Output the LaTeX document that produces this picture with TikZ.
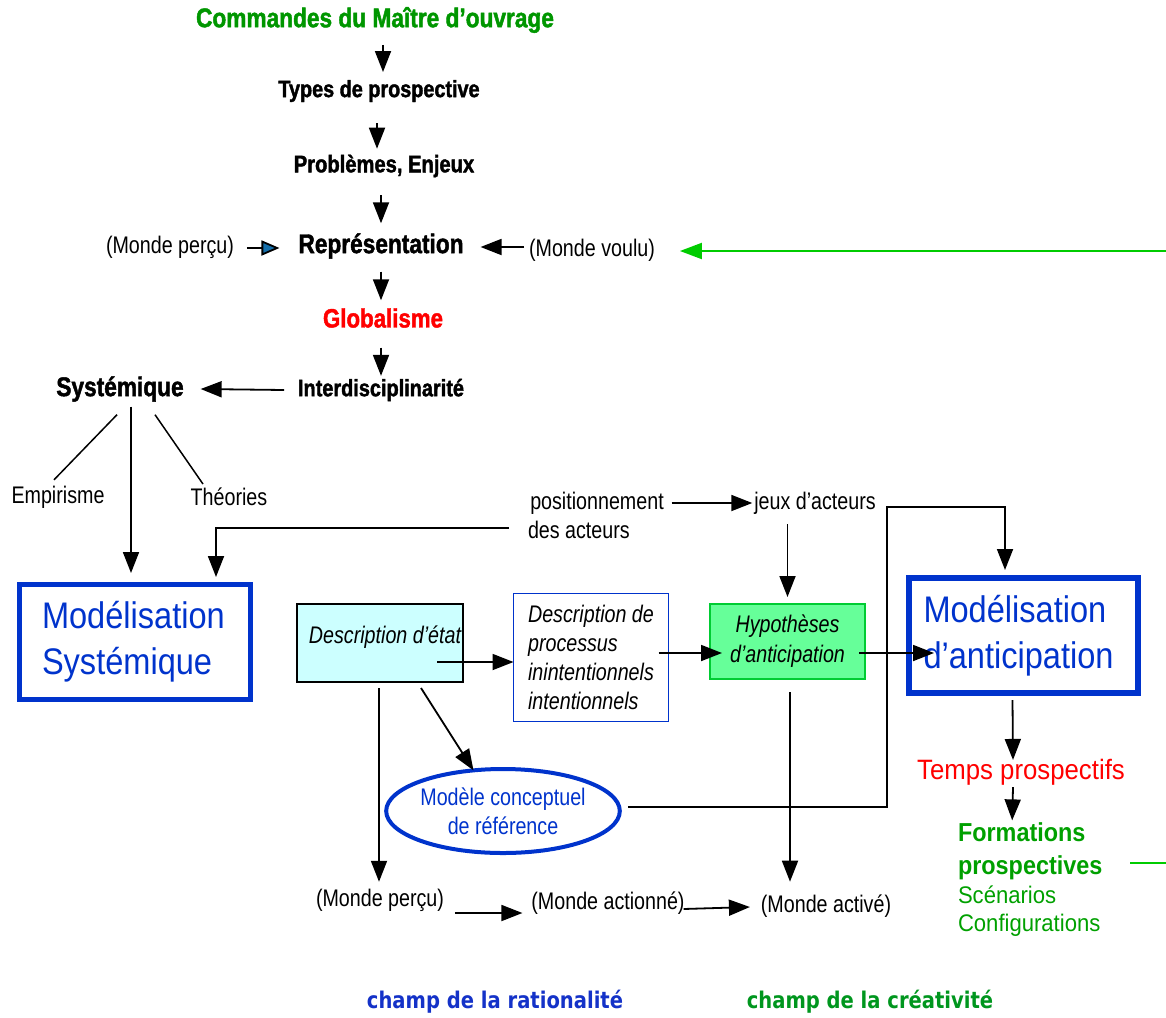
\documentclass[tikz,border=0pt]{standalone}
\usepackage{fontspec}
\setmainfont{Liberation Sans}
\usetikzlibrary{arrows.meta,calc,shapes.geometric}
\newfontfamily\hdf[FakeStretch=0.84,BoldFeatures={FakeBold=1.6}]{Liberation Sans}
\newfontfamily\nrf[FakeStretch=0.82]{Liberation Sans}
\newfontfamily\bgf[FakeStretch=0.88]{Liberation Sans}
\newfontfamily\tpf[FakeStretch=0.92]{Liberation Sans}
\newfontfamily\fmf[FakeStretch=0.9]{Liberation Sans}
\newfontfamily\chf[FakeStretch=0.85]{DejaVu Sans}
\newcommand\fs[2]{\fontsize{#1}{#2}\selectfont}
\definecolor{cmdgreen}{RGB}{0,150,0}
\definecolor{boxblue}{RGB}{0,51,204}
\definecolor{brightgreen}{RGB}{0,204,0}
\definecolor{cyanfill}{RGB}{204,255,255}
\definecolor{hypfill}{RGB}{102,255,153}
\definecolor{hypborder}{RGB}{0,204,51}
\definecolor{tipblue}{RGB}{20,110,170}
\definecolor{formgreen}{RGB}{0,160,0}
\definecolor{champgreen}{RGB}{0,150,30}
\definecolor{champblue}{RGB}{20,50,200}
\tikzset{
  hd/.style={inner sep=0pt,outer sep=0pt,font=\hdf\bfseries\fs{#1}{#1}},
  nr/.style={inner sep=0pt,outer sep=0pt,font=\nrf\fs{24}{29}},
  itx/.style={font=\nrf\itshape\fs{24}{29}},
  bigbox/.style={draw=boxblue,line width=5pt,inner sep=0pt,outer sep=0pt,align=left,text=boxblue,font=\bgf\fs{37}{46}},
  arr/.style={line width=1.8pt,-{Triangle[length=21pt,width=16pt]}},
  ln/.style={line width=1.5pt},
  bluearr/.style={line width=1.8pt,-{Triangle[length=18pt,width=15pt,fill=tipblue]}},
  garr/.style={line width=2pt,draw=brightgreen,-{Triangle[length=22pt,width=16pt]}},
  gline/.style={line width=2pt,draw=brightgreen}
}
\begin{document}
\begin{tikzpicture}[x=1pt,y=-1pt]
\useasboundingbox (0,0) rectangle (1166,1017);

% top chain
\node[hd=27,text=cmdgreen] (cmd) at (375,20) {Commandes du Maître d’ouvrage};
\node[hd=23.6] (types) at (379,91) {Types de prospective};
\node[hd=24] (prob) at (384,166) {Problèmes, Enjeux};
\node[hd=27] (rep) at (381,246) {Représentation};
\node[hd=26.5,text=red] (glob) at (383,318) {Globalisme};
\node[hd=23.7] (inter) at (381,390) {Interdisciplinarité};
\node[hd=27] (sys) at (120,389) {Systémique};

\node[nr] (mp1) at (170,247) {(Monde perçu)};
\node[nr] (mv) at (592,250) {(Monde voulu)};
\coordinate (gR) at (1166,251);

\node[nr] (emp) at (58,497) {Empirisme};
\node[nr] (theo) at (229,497) {Théories};
\node[nr] (pos1) at (597,503) {positionnement};
\node[nr,anchor=west] (pos2) at (528,530) {des acteurs};
\node[nr] (jeux) at (815,503) {jeux d’acteurs};
\coordinate (jc) at (887,507);

% boxes
\node[bigbox,minimum width=231pt,minimum height=115pt,text width=186pt] (msys) at (135,642) {Modélisation\\Systémique};
\node[bigbox,line width=6pt,minimum width=229pt,minimum height=115pt,text width=200pt] (manti) at (1023.5,635.5) {Modélisation\\d’anticipation};
\node[draw,line width=1.5pt,fill=cyanfill,minimum width=166pt,minimum height=78pt,inner sep=0pt,outer sep=0pt] (de) at (380,643) {};
\node[itx,inner sep=0pt] (detxt) at (385,637) {Description d’état};
\node[draw=boxblue,line width=1.5pt,minimum width=155pt,minimum height=128pt,inner sep=0pt,outer sep=0pt,itx,align=left] (dp) at (591,657.5) {Description de\\processus\\inintentionnels\\intentionnels};
\node[draw=hypborder,fill=hypfill,line width=1.5pt,minimum width=155pt,minimum height=75pt,inner sep=0pt,outer sep=0pt,align=center,font=\nrf\itshape\fs{24}{30}] (hyp) at (787.5,641.5) {Hypothèses\\d’anticipation};
\node[ellipse,draw=boxblue,line width=4pt,minimum width=228pt,minimum height=84pt,inner sep=0pt,outer sep=0pt,text=boxblue,align=center,font=\nrf\fs{24}{29}] (mcr) at (503,811) {Modèle conceptuel\\de référence};

% right column
\node[inner sep=0pt,outer sep=0pt,text=red,font=\tpf\fs{28}{34}] (tp) at (1021,772) {Temps prospectifs};
\node[inner sep=0pt,outer sep=0pt,anchor=west,align=left,text=formgreen,font=\fmf\bfseries\fs{26}{33}] (form) at (958,851) {Formations\\prospectives};
\node[inner sep=0pt,outer sep=0pt,anchor=west,align=left,text=formgreen,font=\tpf\fs{24}{28}] (sc) at (958,911) {Scénarios\\Configurations};
\coordinate (gR2) at (1166,863);

% bottom
\node[nr] (mp2) at (380,900) {(Monde perçu)};
\node[nr] (mactn) at (608,903) {(Monde actionné)};
\node[nr] (mact) at (826,906) {(Monde activé)};
\node[inner sep=0pt,font=\chf\bfseries\fs{23}{28},text=champblue] (cr) at (495,1002) {champ de la rationalité};
\node[inner sep=0pt,font=\chf\bfseries\fs{23}{28},text=champgreen] (cc) at (870,1002) {champ de la créativité};

% connectors top chain
\draw[arr] ($(cmd.south)+(8,12)$) -- ($(types.north)+(4,-8)$);
\draw[arr] ($(types.south)+(-2,21)$) -- ($(prob.north)+(-7,-6)$);
\draw[arr] ($(prob.south)+(-3,18)$) -- ($(rep.north)+(0,-10)$);
\draw[arr] ($(rep.south)+(0,13)$) -- ($(glob.north)+(-2,-8)$);
\draw[arr] ($(glob.south)+(-2,20)$) -- ($(inter.north)+(0,-3)$);
\draw[arr] ($(inter.west)+(-14,0)$) -- ($(sys.east)+(17,0)$);
\draw[bluearr] ($(mp1.east)+(13,1)$) -- ($(rep.west)+(-19,2)$);
\draw[arr] ($(mv.west)+(-5,-3)$) -- ($(rep.east)+(17,1)$);
\draw[garr] (gR) -- ($(mv.east)+(25,1)$);

% systemique
\draw[ln] ($(sys.south)+(-3,13)$) -- ($(emp.north)+(-4,-6)$);
\draw[ln] ($(sys.south)+(35,13)$) -- ($(theo.north)+(-26,-4)$);
\draw[arr] ($(sys.south)+(11,5)$) -- ($(msys.north)+(-4,-11.5)$);

% actors
\draw[arr] ($(pos2.west)+(-19,-2)$) -| ($(msys.north)+(81,-7.5)$);
\draw[arr] ($(pos1.east)+(8,0)$) -- ($(jeux.west)+(-2,0)$);
\draw[arr] ($(mcr.east)+(8,-4)$) -| (jc) -| ($(manti.north)+(-18.5,-8)$);
\draw[arr] ($(jeux.south -| hyp.north)+(0,10)$) -- ($(hyp.north)+(0,-7)$);

% middle row
\draw[arr] ($(de.east)+(-26,19)$) -- ($(dp.west)+(0,4.5)$);
\draw[arr] ($(dp.east)+(-10,-4.5)$) -- ($(hyp.west)+(12,11.5)$);
\draw[arr] ($(hyp.east)+(-6,11.5)$) -- ($(manti.west)+(25,17.5)$);

% lower
\draw[arr] ($(de.south)+(-1,6)$) -- ($(mp2.north)+(-1,-7)$);
\draw[arr] ($(de.south)+(41,6)$) -- (mcr.126);
\draw[arr] ($(hyp.south)+(2.5,13)$) -- ($(mact.north)+(-36,-13)$);
\draw[arr] ($(mp2.east)+(11,13)$) -- ($(mactn.west)+(-9,10)$);
\draw[arr] ($(mactn.east)+(-1,6)$) -- ($(mact.west)+(-11,1)$);

% right column connectors
\draw[arr] ($(manti.south)+(-11,7)$) -- ($(tp.north)+(-8,1)$);
\draw[arr] ($(tp.south)+(-8,2)$) -- ($(form.north)+(-18,-2)$);
\draw[gline] ($(form.east |- gR2)+(28,0)$) -- (gR2);
\end{tikzpicture}
\end{document}
